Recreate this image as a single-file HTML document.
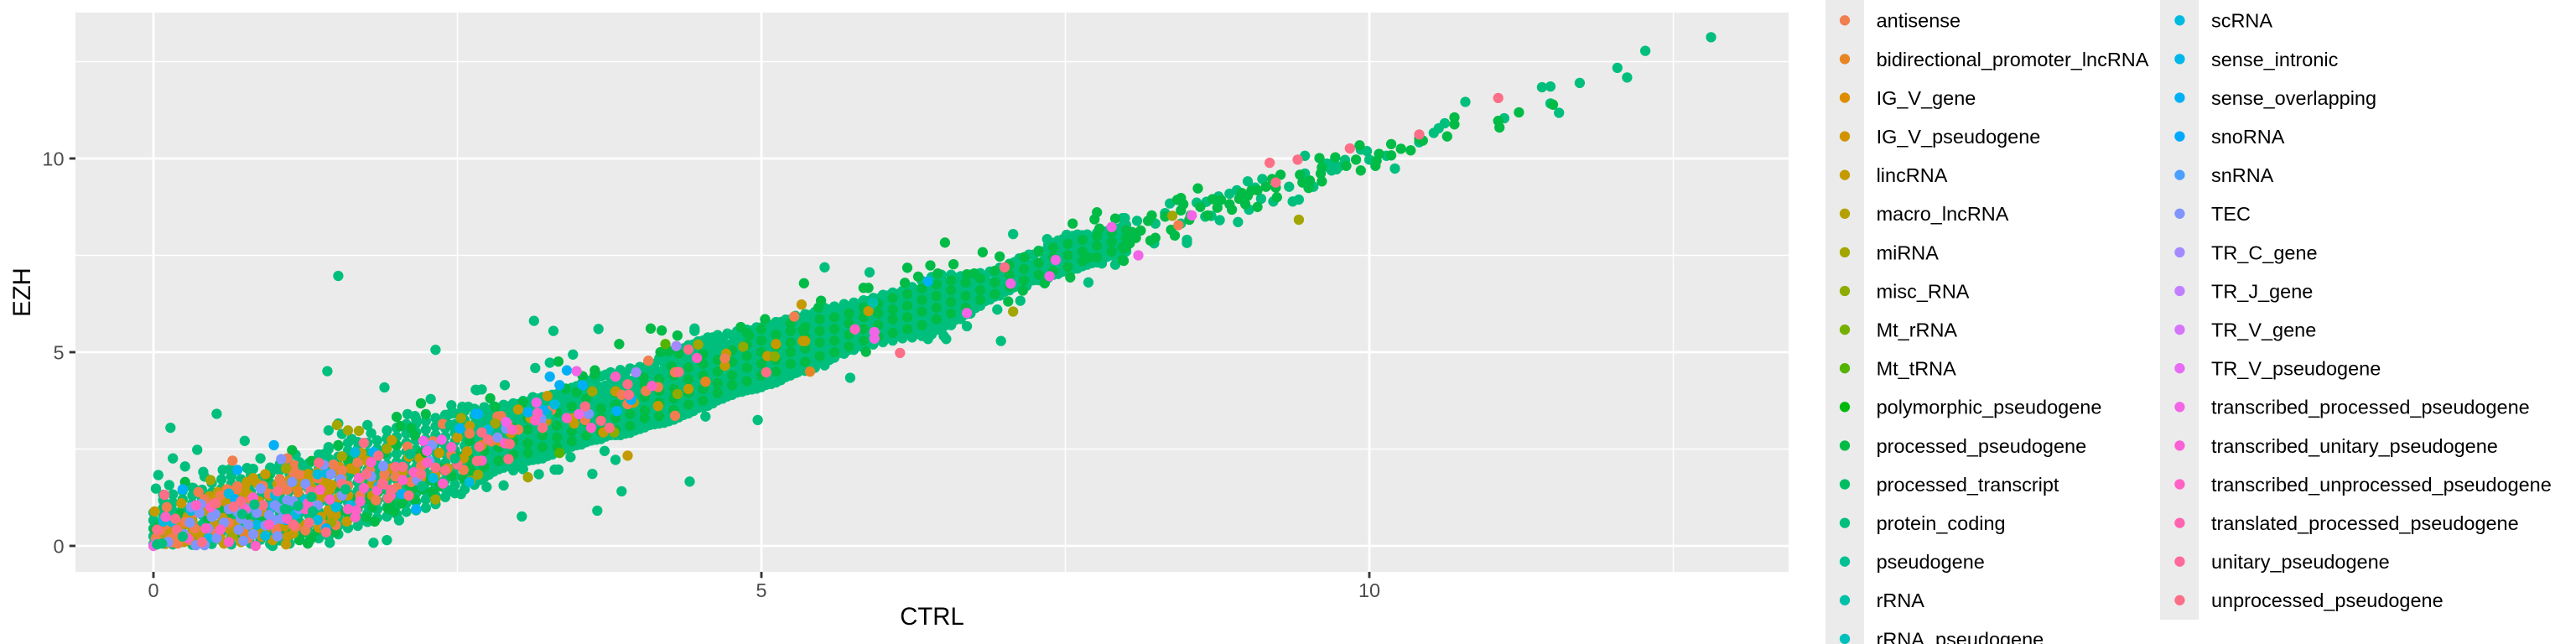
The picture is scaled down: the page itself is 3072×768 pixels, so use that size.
<!DOCTYPE html>
<html lang="en">
<head>
<meta charset="utf-8">
<title>CTRL vs EZH expression scatter</title>
<style>
html,body{margin:0;padding:0;background:#fff;width:3072px;height:768px;overflow:hidden}
svg{display:block}
text{font-family:"Liberation Sans",Arial,sans-serif}
.leg{font-size:23.47px;fill:#000}
.tick{font-size:23.47px;fill:#4D4D4D}
.title{font-size:29.33px;fill:#000}
</style>
</head>
<body>
<svg id="chart" width="3072" height="768" viewBox="0 0 3072 768" xmlns="http://www.w3.org/2000/svg">
<defs><clipPath id="panel-clip"><rect x="90" y="15" width="2043" height="667"/></clipPath></defs>
<rect x="90" y="15" width="2043" height="667" fill="#EBEBEB"/>
<g id="grid"></g>
<g id="points" clip-path="url(#panel-clip)"></g>
<g id="axes"></g>
<text class="title" x="1111.5" y="745" text-anchor="middle">CTRL</text>
<text class="title" transform="translate(36 348.5) rotate(-90)" text-anchor="middle">EZH</text>
<g id="legend">
<g><rect x="2177" y="0" width="46" height="768" fill="#EBEBEB"/></g>
<g><rect x="2576" y="0" width="46" height="739" fill="#EBEBEB"/></g>
<g><circle class="ld" data-level="1" cx="2200" cy="24.3" r="6.15"/><text class="leg" x="2237.6" y="32.7">antisense</text></g>
<g><circle class="ld" data-level="2" cx="2200" cy="70.4" r="6.15"/><text class="leg" x="2237.6" y="78.8">bidirectional_promoter_lncRNA</text></g>
<g><circle class="ld" data-level="3" cx="2200" cy="116.5" r="6.15"/><text class="leg" x="2237.6" y="124.9">IG_V_gene</text></g>
<g><circle class="ld" data-level="4" cx="2200" cy="162.6" r="6.15"/><text class="leg" x="2237.6" y="171">IG_V_pseudogene</text></g>
<g><circle class="ld" data-level="5" cx="2200" cy="208.7" r="6.15"/><text class="leg" x="2237.6" y="217.1">lincRNA</text></g>
<g><circle class="ld" data-level="6" cx="2200" cy="254.8" r="6.15"/><text class="leg" x="2237.6" y="263.2">macro_lncRNA</text></g>
<g><circle class="ld" data-level="7" cx="2200" cy="300.9" r="6.15"/><text class="leg" x="2237.6" y="309.3">miRNA</text></g>
<g><circle class="ld" data-level="8" cx="2200" cy="347" r="6.15"/><text class="leg" x="2237.6" y="355.4">misc_RNA</text></g>
<g><circle class="ld" data-level="9" cx="2200" cy="393.1" r="6.15"/><text class="leg" x="2237.6" y="401.5">Mt_rRNA</text></g>
<g><circle class="ld" data-level="10" cx="2200" cy="439.2" r="6.15"/><text class="leg" x="2237.6" y="447.6">Mt_tRNA</text></g>
<g><circle class="ld" data-level="11" cx="2200" cy="485.3" r="6.15"/><text class="leg" x="2237.6" y="493.7">polymorphic_pseudogene</text></g>
<g><circle class="ld" data-level="12" cx="2200" cy="531.4" r="6.15"/><text class="leg" x="2237.6" y="539.8">processed_pseudogene</text></g>
<g><circle class="ld" data-level="13" cx="2200" cy="577.5" r="6.15"/><text class="leg" x="2237.6" y="585.9">processed_transcript</text></g>
<g><circle class="ld" data-level="14" cx="2200" cy="623.6" r="6.15"/><text class="leg" x="2237.6" y="632">protein_coding</text></g>
<g><circle class="ld" data-level="15" cx="2200" cy="669.7" r="6.15"/><text class="leg" x="2237.6" y="678.1">pseudogene</text></g>
<g><circle class="ld" data-level="16" cx="2200" cy="715.8" r="6.15"/><text class="leg" x="2237.6" y="724.2">rRNA</text></g>
<g><circle class="ld" data-level="17" cx="2200" cy="761.9" r="6.15"/><text class="leg" x="2237.6" y="770.3">rRNA_pseudogene</text></g>
<g><circle class="ld" data-level="19" cx="2599.4" cy="24.3" r="6.15"/><text class="leg" x="2637" y="32.7">scRNA</text></g>
<g><circle class="ld" data-level="20" cx="2599.4" cy="70.4" r="6.15"/><text class="leg" x="2637" y="78.8">sense_intronic</text></g>
<g><circle class="ld" data-level="21" cx="2599.4" cy="116.5" r="6.15"/><text class="leg" x="2637" y="124.9">sense_overlapping</text></g>
<g><circle class="ld" data-level="22" cx="2599.4" cy="162.6" r="6.15"/><text class="leg" x="2637" y="171">snoRNA</text></g>
<g><circle class="ld" data-level="23" cx="2599.4" cy="208.7" r="6.15"/><text class="leg" x="2637" y="217.1">snRNA</text></g>
<g><circle class="ld" data-level="24" cx="2599.4" cy="254.8" r="6.15"/><text class="leg" x="2637" y="263.2">TEC</text></g>
<g><circle class="ld" data-level="25" cx="2599.4" cy="300.9" r="6.15"/><text class="leg" x="2637" y="309.3">TR_C_gene</text></g>
<g><circle class="ld" data-level="26" cx="2599.4" cy="347" r="6.15"/><text class="leg" x="2637" y="355.4">TR_J_gene</text></g>
<g><circle class="ld" data-level="27" cx="2599.4" cy="393.1" r="6.15"/><text class="leg" x="2637" y="401.5">TR_V_gene</text></g>
<g><circle class="ld" data-level="28" cx="2599.4" cy="439.2" r="6.15"/><text class="leg" x="2637" y="447.6">TR_V_pseudogene</text></g>
<g><circle class="ld" data-level="29" cx="2599.4" cy="485.3" r="6.15"/><text class="leg" x="2637" y="493.7">transcribed_processed_pseudogene</text></g>
<g><circle class="ld" data-level="30" cx="2599.4" cy="531.4" r="6.15"/><text class="leg" x="2637" y="539.8">transcribed_unitary_pseudogene</text></g>
<g><circle class="ld" data-level="31" cx="2599.4" cy="577.5" r="6.15"/><text class="leg" x="2637" y="585.9">transcribed_unprocessed_pseudogene</text></g>
<g><circle class="ld" data-level="32" cx="2599.4" cy="623.6" r="6.15"/><text class="leg" x="2637" y="632">translated_processed_pseudogene</text></g>
<g><circle class="ld" data-level="33" cx="2599.4" cy="669.7" r="6.15"/><text class="leg" x="2637" y="678.1">unitary_pseudogene</text></g>
<g><circle class="ld" data-level="34" cx="2599.4" cy="715.8" r="6.15"/><text class="leg" x="2637" y="724.2">unprocessed_pseudogene</text></g>
</g>
</svg>
<script>
const xMajorBreaks = [0, 5, 10];
const xMinorBreaks = [2.5, 7.5, 12.5];
const yMajorBreaks = [0, 5, 10];
const yMinorBreaks = [2.5, 7.5, 12.5];
const xTickLabels = ["0", "5", "10"];
const yTickLabels = ["0", "5", "10"];

/* Dense band estimates: each row is [CTRL, EZH, EZH, ...] */
const proteinCodingBand = [
[0,.05,.25,.45,.66,.86],[.08,.1,.32,.55,.76,.98,1.18,1.32],[.16,.04,.26,.47,.7,.9,1.12,1.33],[.24,.1,.33,.52,.78,.98,1.2,1.42],[.32,.03,.24,.46,.66,.9,1.1,1.3,1.5],[.4,.12,.35,.55,.8,1.0,1.22,1.45],[.48,.05,.27,.5,.72,.93,1.15,1.38,1.62],[.56,.14,.36,.6,.8,1.03,1.26,1.48,1.72],[.64,.04,.25,.47,.7,.92,1.14,1.36,1.6,1.8],[.72,.15,.38,.6,.82,1.05,1.28,1.5,1.72],[.8,.06,.27,.5,.72,.95,1.16,1.4,1.62,1.85],[.88,.16,.38,.6,.84,1.06,1.28,1.5,1.74],[.96,.05,.27,.5,.72,.94,1.17,1.4,1.62,1.85,2.02],[1.04,.14,.37,.6,.83,1.05,1.28,1.5,1.72,1.95,2.12],[1.12,.06,.28,.5,.74,.96,1.18,1.42,1.64,1.86,2.12],[1.2,.16,.38,.62,.84,1.06,1.3,1.52,1.74,1.98,2.16],[1.28,.12,.34,.56,.78,1.0,1.24,1.46,1.68,1.9,2.14],[1.36,.2,.44,.66,.88,1.1,1.34,1.56,1.78,2.0,2.22,2.36],[1.44,.25,.47,.7,.92,1.14,1.36,1.6,1.82,2.04,2.26,2.5],
[1.52,.3,.52,.74,.96,1.18,1.42,1.64,1.86,2.08,2.3,2.58],[1.6,.46,.68,.9,1.12,1.36,1.58,1.8,2.02,2.24,2.46,2.66],[1.68,.52,.74,.96,1.2,1.42,1.64,1.86,2.08,2.3,2.5,2.68],[1.76,.62,.84,1.06,1.28,1.5,1.72,1.96,2.18,2.4,2.66],[1.84,.72,.94,1.16,1.38,1.6,1.84,2.06,2.28,2.5,2.72],[1.92,.76,1.0,1.22,1.44,1.66,1.88,2.1,2.34,2.56,2.78,2.98],[2.0,.82,1.04,1.26,1.48,1.72,1.94,2.16,2.38,2.6,2.82,3.05],[2.08,.88,1.1,1.32,1.54,1.76,2.0,2.22,2.44,2.66,2.9,3.14],[2.16,.92,1.14,1.36,1.6,1.82,2.04,2.26,2.48,2.72,2.94,3.16,3.28],[2.24,.98,1.2,1.42,1.64,1.88,2.1,2.32,2.54,2.76,3.0,3.22],[2.32,1.08,1.3,1.52,1.74,1.96,2.2,2.42,2.64,2.86,3.08,3.3],[2.4,1.26,1.48,1.7,1.92,2.14,2.38,2.6,2.82,3.04,3.26,3.38],[2.48,1.36,1.58,1.8,2.02,2.24,2.46,2.7,2.92,3.14,3.42],[2.56,1.46,1.68,1.9,2.12,2.36,2.58,2.8,3.02,3.24,3.48],[2.64,1.58,1.8,2.02,2.24,2.46,2.68,2.92,3.14,3.36,3.54],[2.72,1.76,1.98,2.2,2.42,2.66,2.88,3.1,3.32,3.58],[2.8,1.92,2.14,2.36,2.58,2.8,3.02,3.24,3.46,3.6],[2.88,2.02,2.24,2.46,2.68,2.9,3.12,3.34,3.56,3.64],[2.96,2.1,2.32,2.56,2.78,3.0,3.22,3.44,3.68],[3.04,2.16,2.4,2.62,2.84,3.06,3.28,3.5,3.74],[3.12,2.22,2.44,2.66,2.9,3.12,3.34,3.56,3.84],[3.2,2.26,2.48,2.72,2.94,3.16,3.38,3.6,3.84],[3.28,2.36,2.58,2.8,3.02,3.24,3.46,3.68,3.9],[3.36,2.46,2.68,2.9,3.12,3.36,3.58,3.8,3.98],[3.44,2.56,2.78,3.0,3.22,3.44,3.66,3.88,4.08],[3.52,2.62,2.84,3.06,3.28,3.5,3.74,3.96,4.18],[3.6,2.72,2.94,3.16,3.38,3.6,3.82,4.04,4.28],[3.68,2.76,3.0,3.22,3.44,3.66,3.88,4.1,4.38],[3.76,2.86,3.08,3.3,3.52,3.74,3.96,4.2,4.48],[3.84,2.86,3.1,3.32,3.54,3.76,3.98,4.2,4.42,4.54],[3.92,2.92,3.14,3.36,3.58,3.8,4.04,4.26,4.58],[4.0,3.02,3.24,3.46,3.68,3.92,4.14,4.36,4.62],[4.08,3.12,3.34,3.56,3.78,4.0,4.24,4.46,4.7],[4.16,3.16,3.38,3.62,3.84,4.06,4.28,4.5,4.84],[4.24,3.22,3.44,3.66,3.9,4.12,4.34,4.56,4.78,4.98],[4.32,3.32,3.54,3.76,3.98,4.2,4.44,4.66,4.88,5.08],[4.4,3.42,3.64,3.86,4.08,4.3,4.52,4.76,4.98,5.18],[4.48,3.56,3.78,4.0,4.22,4.44,4.66,4.9,5.12,5.28],[4.56,3.62,3.84,4.06,4.28,4.5,4.74,4.96,5.18,5.38],[4.64,3.76,3.98,4.2,4.42,4.66,4.88,5.1,5.32,5.44],[4.72,3.86,4.08,4.3,4.54,4.76,4.98,5.2,5.48],[4.8,3.96,4.18,4.4,4.62,4.86,5.08,5.3,5.54],[4.88,4.02,4.24,4.46,4.7,4.92,5.14,5.36,5.58],[4.96,4.06,4.3,4.52,4.74,4.96,5.18,5.4,5.64],[5.04,4.16,4.38,4.6,4.82,5.04,5.28,5.5,5.74],[5.12,4.22,4.44,4.66,4.88,5.12,5.34,5.56,5.78],[5.2,4.36,4.58,4.8,5.02,5.24,5.46,5.68,5.84],[5.28,4.46,4.68,4.9,5.12,5.34,5.56,5.78,5.94],[5.36,4.52,4.74,4.96,5.18,5.4,5.62,5.84,5.98],[5.44,4.6,4.82,5.04,5.26,5.48,5.7,5.92,6.04],[5.52,4.66,4.88,5.1,5.32,5.56,5.78,6.0,6.14],[5.6,4.86,5.08,5.3,5.52,5.74,5.96,6.18],[5.68,4.96,5.18,5.4,5.62,5.84,6.06,6.24],[5.76,5.06,5.28,5.5,5.72,5.94,6.16,6.28],[5.84,5.12,5.34,5.56,5.78,6.0,6.22,6.34],[5.92,5.2,5.42,5.64,5.86,6.08,6.3,6.4],[6.0,5.26,5.48,5.7,5.92,6.14,6.36,6.48],[6.08,5.3,5.52,5.74,5.96,6.2,6.42,6.54],[6.16,5.36,5.58,5.8,6.02,6.24,6.46,6.58],[6.24,5.38,5.6,5.84,6.06,6.28,6.5,6.68],[6.32,5.42,5.64,5.86,6.08,6.32,6.54,6.84],[6.4,5.46,5.68,5.9,6.14,6.36,6.58,6.8,6.94],[6.48,5.56,5.78,6.0,6.22,6.44,6.66,6.88,7.0],[6.56,5.7,5.92,6.14,6.36,6.6,6.82,7.0],[6.64,5.86,6.08,6.3,6.52,6.74,6.96],[6.72,6.0,6.24,6.46,6.68,6.9,7.0],[6.8,6.2,6.42,6.64,6.86,7.04],[6.88,6.36,6.58,6.8,7.08],[6.96,6.46,6.68,6.9,7.18],[7.04,6.6,6.82,7.04,7.28],[7.12,6.72,6.94,7.16,7.42],[7.2,6.82,7.04,7.26,7.52],[7.28,6.86,7.08,7.3,7.62],[7.36,6.92,7.14,7.36,7.58,7.78],[7.44,7.02,7.24,7.46,7.68,7.88],[7.52,7.1,7.32,7.54,7.76,7.98],[7.6,7.16,7.38,7.6,7.82,8.04],[7.68,7.26,7.48,7.7,7.92,8.04],[7.76,7.32,7.54,7.76,7.98,8.08],[7.84,7.46,7.68,7.9,8.12],[7.92,7.52,7.74,7.96,8.18],[8.0,7.6,7.84,8.06,8.28]
];
const proteinCodingBandInner = [
[2.68,1.7,1.92,2.14,2.36,2.58,2.8,3.02,3.24,3.46],[2.76,1.84,2.06,2.28,2.5,2.74,2.96,3.18,3.4],[2.84,1.98,2.2,2.42,2.64,2.86,3.08,3.3,3.52],[2.92,2.06,2.28,2.5,2.72,2.94,3.16,3.38,3.6],[3.0,2.14,2.36,2.58,2.8,3.02,3.24,3.46,3.66],[3.08,2.2,2.42,2.64,2.86,3.08,3.3,3.52,3.72],[3.16,2.24,2.46,2.7,2.92,3.14,3.36,3.58,3.8],[3.24,2.32,2.54,2.76,2.98,3.2,3.42,3.64,3.84],[3.32,2.42,2.64,2.86,3.08,3.3,3.52,3.74,3.92],[3.4,2.52,2.74,2.96,3.18,3.4,3.62,3.84,4.02],[3.48,2.6,2.82,3.04,3.26,3.48,3.7,3.92,4.12],[3.56,2.68,2.9,3.12,3.34,3.56,3.78,4.0,4.22],[3.64,2.74,2.96,3.18,3.4,3.62,3.84,4.06,4.32],[3.72,2.82,3.04,3.26,3.48,3.7,3.92,4.14,4.42],[3.8,2.86,3.08,3.3,3.52,3.74,3.96,4.18,4.4],[3.88,2.9,3.12,3.34,3.56,3.78,4.0,4.22,4.46],[3.96,2.98,3.2,3.42,3.64,3.86,4.08,4.3,4.54],[4.04,3.06,3.28,3.5,3.72,3.94,4.16,4.38,4.6],[4.12,3.14,3.36,3.58,3.8,4.02,4.24,4.46,4.7],[4.2,3.18,3.4,3.62,3.84,4.06,4.28,4.5,4.72,4.86],[4.28,3.26,3.48,3.7,3.92,4.14,4.36,4.58,4.8,4.98],[4.36,3.38,3.6,3.82,4.04,4.26,4.48,4.7,4.92,5.1],[4.44,3.48,3.7,3.92,4.14,4.36,4.58,4.8,5.02,5.2],[4.52,3.58,3.8,4.02,4.24,4.46,4.68,4.9,5.12,5.3],[4.6,3.68,3.9,4.12,4.34,4.56,4.78,5.0,5.22,5.38],[4.68,3.8,4.02,4.24,4.46,4.68,4.9,5.12,5.34],[4.76,3.9,4.12,4.34,4.56,4.78,5.0,5.22,5.44],[4.84,3.98,4.2,4.42,4.64,4.86,5.08,5.3,5.5],[4.92,4.04,4.26,4.48,4.7,4.92,5.14,5.36,5.56],[5.0,4.1,4.32,4.54,4.76,4.98,5.2,5.42,5.64],[5.08,4.18,4.4,4.62,4.84,5.06,5.28,5.5,5.7],[5.16,4.28,4.5,4.72,4.94,5.16,5.38,5.6,5.78],[5.24,4.4,4.62,4.84,5.06,5.28,5.5,5.72,5.84],
[5.32,4.6,4.8,5.0,5.22,5.44,5.66,5.88],[5.4,4.66,4.88,5.1,5.32,5.54,5.76,5.96],[5.48,4.74,4.96,5.18,5.4,5.62,5.84,6.04],[5.56,4.8,5.0,5.2,5.42,5.64,5.86,6.1],[5.64,4.98,5.2,5.42,5.64,5.86,6.1],[5.72,5.06,5.28,5.5,5.72,5.94,6.18],[5.8,5.16,5.38,5.6,5.82,6.04,6.24],[5.88,5.24,5.46,5.68,5.9,6.12,6.32],[5.96,5.32,5.54,5.76,5.98,6.2,6.38],[6.04,5.38,5.6,5.82,6.04,6.26,6.46],[6.12,5.42,5.64,5.86,6.08,6.3,6.5],[6.2,5.46,5.68,5.9,6.12,6.34,6.56],[6.28,5.48,5.72,5.94,6.16,6.38,6.6],[6.36,5.52,5.76,5.98,6.22,6.44,6.68],[6.44,5.58,5.8,6.04,6.26,6.5,6.74,6.92],[6.52,5.7,5.92,6.14,6.36,6.58,6.8],[6.6,5.84,6.04,6.26,6.48,6.7,6.92],[6.68,5.98,6.2,6.4,6.62,6.84],[6.76,6.14,6.34,6.56,6.78,6.98],[6.84,6.32,6.52,6.72,6.94],[6.92,6.44,6.62,6.84,7.04],[7.0,6.56,6.78,7.0,7.18],[7.08,6.68,6.9,7.1,7.32],[7.16,6.78,7.0,7.22,7.44],[7.24,6.86,7.06,7.28,7.52],[7.32,6.92,7.14,7.36,7.6],[7.4,7.0,7.22,7.44,7.66,7.82],[7.48,7.08,7.3,7.52,7.74,7.92],[7.56,7.14,7.36,7.58,7.8,8.0],[7.64,7.22,7.44,7.66,7.88,8.02],[7.72,7.3,7.52,7.74,7.96],[7.8,7.4,7.62,7.84,8.06],[7.88,7.5,7.72,7.94,8.14],[7.96,7.58,7.8,8.02,8.22]
];
const processedPseudogeneBand = [
[2.6,2.0,2.25,2.7],[2.72,2.05,2.45,2.9],[2.84,2.2,2.55,2.8],[2.96,2.35,2.7,3.05],[3.08,2.4,2.65,3.0,3.3],[3.2,2.55,2.85,3.2],[3.32,2.55,2.8,3.1,3.45],[3.44,2.7,2.95,3.3,3.6],[3.56,2.85,3.2,3.5,3.8],[3.68,2.95,3.3,3.55],[3.8,3.0,3.3,3.65,3.95],[3.92,3.1,3.4,3.7],[4.04,3.3,3.5,3.85,4.15],[4.16,3.35,3.7,4.0,4.3],[4.28,3.5,3.8,4.05,4.4],[4.4,3.65,3.95,4.3,4.6],[4.52,3.75,4.05,4.4,4.7,4.95],[4.64,3.95,4.2,4.5,4.8],[4.76,4.15,4.4,4.75,5.05],[4.88,4.25,4.6,4.9,5.2,5.5],[5.0,4.4,4.7,5.0,5.3,5.6],[5.12,4.5,4.8,5.15,5.45],[5.24,4.7,5.0,5.25,5.55,5.75],[5.36,4.75,5.1,5.4,5.65],[5.48,4.9,5.25,5.55,5.85],[5.6,5.0,5.3,5.6,5.9],[5.72,5.15,5.45,5.75,6.0],[5.84,5.3,5.6,5.9,6.15],[5.96,5.4,5.7,6.0,6.25],[6.08,5.5,5.85,6.1,6.4],[6.2,5.6,5.9,6.2,6.5],[6.32,5.7,6.05,6.35,6.65],[6.44,5.85,6.15,6.45,6.75],[6.56,6.0,6.3,6.6,6.85],[6.68,6.15,6.45,6.8],[6.8,6.35,6.6,6.9],[6.92,6.5,6.8,7.1],[7.04,6.7,7.0,7.25],[7.16,6.85,7.15,7.45],[7.28,7.0,7.3,7.6],[7.4,7.1,7.45,7.7],[7.52,7.2,7.5,7.8],[7.64,7.35,7.6,7.9],[7.76,7.45,7.75,8.0],[7.88,7.6,7.85,8.1],[8.0,7.7,7.95,8.15]
];

/* [CTRL, EZH] values, one array per gene biotype */
const proteinCoding = [
[12.81,13.13],[12.27,12.78],[12.04,12.34],[12.12,12.09],[11.73,11.95],[11.42,11.84],[11.49,11.86],[11.49,11.42],[11.56,11.18],[10.79,11.46],[11.11,11.04],
[10.62,10.91],[10.57,10.78],[10.53,10.66],[10.41,10.42],[9.47,10.07],[9.98,10.19],[9.93,10.23],[10.0,9.97],[10.14,10.07],[10.21,9.74],[9.8,9.96],[9.75,9.79],[9.69,9.87],[9.69,9.69],[9.65,9.87],[9.73,9.72],[9.67,9.76],
[9.47,9.61],[9.54,9.27],[9.42,8.94],[9.37,8.89],[9.0,9.41],[9.12,9.47],[9.34,9.27],[9.21,8.89],[9.11,8.96],[9.06,9.25],[9.01,8.68],[8.91,9.18],[8.85,9.09],[8.76,9.02],[8.77,8.41],[8.92,8.36],[8.66,8.88],[8.58,8.86],[8.65,8.5],[8.7,8.52],
[8.36,8.84],[8.32,8.59],[8.45,8.32],[8.5,7.9],[8.5,7.82],[8.09,8.39],[8.24,8.32],[7.99,8.46],[7.98,8.1],[8.23,7.81],
[7.07,8.05],[5.52,7.19],[5.89,7.06],[5.73,4.34],[6.97,5.29],[6.37,5.34],[6.52,5.34],[6.5,5.42],[6.69,5.67],[7.69,6.8],[7.13,6.33],[7.18,6.71],[6.94,6.1],[7.8,7.29],[7.91,7.26],[7.97,8.46],[6.59,5.83],[6.71,6.0],
[3.13,5.81],[3.29,5.55],[3.66,5.6],[4.45,5.61],[4.45,5.55],[3.45,4.94],[3.26,4.73],[3.14,4.59],[2.89,4.15],[2.66,4.02],[2.7,4.04],[3.71,2.45],[3.8,2.22],[3.61,1.86],[3.85,1.41],[4.41,1.66],[4.97,3.25],[3.65,0.91],[3.03,0.76],[2.88,1.56],[3.17,1.85],[3.3,1.97],[3.33,1.97],[3.43,2.29],[3.04,1.98],[2.96,1.95],[4.54,3.34],[4.42,3.52],[2.74,1.52],[5.04,4.24],[5.3,4.49],
[1.52,6.97],[2.32,5.06],[1.43,4.51],[1.9,4.09],[2.65,4.03],[0.52,3.41],[0.14,3.05],[0.75,2.71],[0.36,2.48],[0.16,2.26],[0.26,2.05],[0.88,2.26],[0.04,1.83],[0.02,1.48],[0.13,1.57],[0.41,1.91],[0.42,1.79],[0.57,1.96],[0.63,1.98],[0.77,2.01],[0.82,1.99],[1.0,1.98],[1.17,2.35],[1.44,2.98],[1.55,2.89],[1.52,3.16],[1.76,3.12],[1.79,2.91],[1.63,2.76],[1.44,2.55],[1.4,2.37],[2.09,3.4],[2.15,3.35],[2.28,3.79],[2.45,3.63],[2.54,3.59],[2.59,3.59],[2.44,3.41],[1.45,0.08],[1.81,0.08],[1.92,0.15],[2.02,0.66],[2.45,1.43],[2.53,1.34],[1.73,0.67],[0.98,0.0],[0.33,1.49],
[7.51,8.03],[7.68,8.03],[7.66,7.31],[8.04,8.03],[8.0,7.81],[7.35,7.92]
];

const processedPseudogene = [
[11.51,11.39],[11.23,11.19],[11.06,10.97],[11.07,10.8],[10.64,10.57],[10.41,10.52],[10.44,10.46],[10.7,11.06],[10.7,10.88],[10.34,10.21],[10.26,10.25],[10.18,10.37],[10.18,10.08],[10.08,10.12],[10.06,9.94],[10.05,9.81],[9.93,9.69],[9.89,9.97],[9.92,10.34],[9.81,9.81],[9.72,10.03],
[9.59,10.01],[9.61,9.77],[9.6,9.61],[9.61,9.41],[9.51,9.43],[9.45,9.38],[9.43,9.58],[9.5,9.24],[9.27,9.58],[9.2,9.47],[9.23,9.25],[9.24,9.0],[9.15,9.27],[9.08,9.18],[9.03,9.17],[9.08,8.75],[8.98,8.82],[9.0,9.04],[8.95,9.11],[8.93,8.96],[8.87,8.68],[8.85,8.82],[8.78,8.93],[8.75,8.73],[8.71,8.95],[8.67,8.53],[8.61,8.75],[8.59,9.23],[8.53,8.53],[8.52,8.42],
[8.45,8.98],[8.42,8.93],[8.47,8.82],[8.45,8.66],[8.32,8.5],[8.37,8.16],[8.4,8.01],[8.21,8.53],[8.18,8.39],[8.12,8.14],[8.05,8.1],[8.08,7.95],[8.03,7.81],[8.24,7.95],[8.2,7.88],[7.98,7.67],[7.98,7.36],
[6.51,7.83],[6.82,7.58],[6.2,7.18],[5.35,6.78],[6.39,7.24],[6.58,7.27],[5.86,5.01],[5.84,6.66],[5.88,6.66],[6.96,7.47],[7.56,8.32],[7.76,8.61],[7.74,8.43],[7.78,8.19],[7.91,8.45],[7.97,7.71],[7.97,7.38],[7.69,7.44],[7.54,6.93],[7.33,6.78],[7.15,6.59],[7.03,6.31],[5.49,6.33],[5.47,6.15],[6.29,6.95],[6.18,6.79],[6.45,7.03],[6.69,7.01],[6.75,7.03],
[4.09,5.61],[4.18,5.56],[4.31,5.43],[3.83,5.21],[3.33,4.76],[3.63,4.53],[2.77,3.81],[2.81,3.59],[3.04,3.71],[3.39,4.06],[3.48,3.97],[3.53,4.38],[3.63,4.42],[4.03,4.35],[4.26,4.64],[4.17,5.0],[4.24,5.03],[4.32,4.96],[4.83,5.65],[4.9,5.43],[5.03,5.85],[5.34,5.57],
[0.26,1.65],[1.14,2.47],[2.2,3.68],[2.24,3.4],[2.0,3.33],[2.12,3.04],[2.03,3.09],[1.82,0.63],[1.27,0.06],[0.22,0.83],[1.98,0.89],[2.04,1.1],[2.13,1.46],[2.21,1.46],[2.29,1.39],[1.93,0.96],[1.65,1.21],[1.53,1.54],[1.41,0.67],[1.24,0.35],[1.3,0.2],[0.88,0.67],[0.45,0.69],[0.61,0.74],[0.76,0.78],[0.84,1.1],[1.58,0.89],[1.75,1.21],[0.94,1.79],[1.3,2.19],[1.52,2.6],[0.01,0.42],[2.62,1.9],[2.35,1.54],
[.05,.55],[.2,.6],[.35,.25],[.55,.95],[.7,.25],[.9,1.0],[1.05,.9],[1.1,.3],[1.2,.15],[1.35,.4],[1.45,.55],[1.5,.35],[1.62,.75],[1.68,1.0],[1.75,.75],[1.8,1.0],[1.85,1.4],[1.95,1.1],[2.0,1.4],[2.05,1.15],[2.1,1.6],[2.15,1.2],[2.2,2.4],[2.28,1.7],[2.35,2.0],[2.45,1.8],[2.5,2.3],[2.55,1.75],[2.0,2.6],[2.15,2.85],[1.9,2.4],[1.6,2.2]
];

const lincRNA = [
[0.12,0.31],[0.29,0.56],[0.37,0.31],[0.39,0.17],[0.54,0.38],[0.58,0.06],[0.65,0.25],[0.67,0.56],[0.89,0.89],[0.89,0.35],[0.89,0.24],[1.1,0.24],[1.09,0.04],[1.36,0.47],[1.46,0.6],[1.59,0.63],[1.47,0.78],[1.44,0.92],[1.38,1.25],[1.27,1.86],[0.92,1.85],[0.82,1.75],[0.77,1.65],[0.78,1.32],[0.6,1.46],[0.53,1.39],[0.46,1.28],[0.23,1.1],[1.4,1.61],[1.47,1.57],[1.52,1.25],[1.66,1.97],[1.53,2.04],[1.71,2.4],[1.96,2.73],[1.8,1.61],[2.32,1.83],[2.58,2.44],[2.55,2.26],[2.19,2.26],[1.23,1.83],[1.15,1.68],[1.43,1.39],[1.34,1.28],[0.01,0.89],
[3.24,3.87],[3.0,3.52],[2.94,2.91],[3.46,3.16],[3.8,3.99],[3.7,2.93],[4.15,3.61],[5.12,5.21],[3.9,2.33],[3.23,3.22],[4.71,4.96],[5.34,5.29],[5.88,6.06],[5.33,6.23],[5.36,5.29],
[.05,.15],[.1,.05],[.15,.35],[.18,.2],[.22,.48],[.25,.1],[.3,.3],[.32,.62],[.28,.75],[.42,.42],[.44,.9],[.48,1.25],[.5,.55],[.55,.2],[.57,.72],[.6,1.12],[.63,.42],[.7,1.35],[.72,.1],[.75,1.5],[.8,.55],[.85,1.62],[.87,1.15],[.95,1.3],[.98,.15],[1.02,1.6],[1.05,1.45],[1.08,.5],[1.12,1.7],[1.15,.32],[1.18,1.5],[1.22,1.62],[1.25,.55],[1.3,1.75],[1.3,1.5],[1.35,1.9],[1.38,.75],[1.42,1.7],[1.45,1.45],[1.5,1.9],[1.5,.8],[1.55,1.75],[1.6,1.3],[1.62,2.0],[1.7,1.75],[1.75,2.2],[1.8,1.3],[1.82,2.35],[1.9,1.75],[1.95,2.0],[2.05,1.9],[2.1,2.3],[2.2,1.75],[2.35,2.4],[2.42,2.0],[2.5,2.8],[2.6,3.1],[2.7,2.6],[2.85,2.7],[3.1,3.3],[3.45,3.3],[3.95,3.7],[4.4,4.05],[4.7,4.65],[5.05,4.9]
];

const antisense = [
[1.1,2.26],[1.16,2.08],[1.04,1.72],[0.69,1.54],[0.61,1.46],[0.52,1.1],[0.37,1.39],[0.11,1.0],[0.34,0.45],[0.16,0.09],[0.2,0.06],[0.74,0.35],[1.01,0.4],[1.17,0.49],[1.5,0.54],[1.19,1.39],[1.68,2.15],[1.99,1.79],[1.83,1.18],[2.55,1.96],[0.65,2.2],[2.38,3.15],[2.09,2.56],
[4.07,4.78],[4.29,3.36],[4.29,4.48],[5.27,5.92],[4.05,4.0],[2.86,3.35],[2.83,3.34],[2.91,3.16],[3.27,3.5],[4.7,4.84],[3.9,3.66],[8.43,8.28],
[.02,.2],[.06,.4],[.1,.55],[.14,.18],[.2,.3],[.26,.62],[.3,.15],[.35,.85],[.42,1.2],[.5,.3],[.55,1.3],[.62,.6],[.68,1.45],[.78,.2],[.8,1.2],[.9,1.55],[.95,1.35],[1.0,.5],[1.05,1.6],[1.1,1.45],[1.15,1.9],[1.2,1.85],[1.25,.4],[1.35,1.75],[1.4,.55],[1.48,2.1],[1.55,1.95],[1.6,1.55],[1.7,1.3],[1.78,1.95],[1.9,1.85],[2.0,1.5],[2.12,1.65],[2.2,2.05],[2.3,2.7],[2.45,2.35],[2.6,2.9],[2.78,2.7],[3.0,3.0],[3.55,3.25],[3.85,3.9],[4.15,4.1]
];
const bidirectionalLncRNA = [[4.54,4.24],[1.19,1.39],[0.75,0.3],[5.4,4.5]];
const miRNA = [
[1.51,3.12],[1.6,2.98],[1.69,2.97],[2.32,1.2],[2.53,3.3],[1.92,2.51],[1.55,2.31],[1.09,2.0],[0.47,1.7],[0.92,0.42],[0.65,0.25],[1.46,0.6],
[3.08,1.77],[3.61,3.99],[4.48,5.2],[2.67,1.84],[2.61,1.68],[2.81,3.16],[7.07,6.05],[8.38,8.52],[9.42,8.42]
];
const miscRNA = [[4.31,3.92],[4.85,5.14],[5.11,4.89],[3.79,2.93]];
const mtTRNA = [[4.21,5.21],[3.34,2.4]];
const polymorphicPseudogene = [[2.24,2.4]];
const rRNA = [[5.92,6.28],[3.24,3.4]];
const scRNA = [[0.31,0.91],[0.08,0.63],[0.98,1.03],[1.42,1.88],[1.66,2.42],[1.17,0.82],[0.92,0.26],[1.35,0.67],[.15,.62],[.45,.2],[.62,1.35],[.85,.55],[1.0,1.3],[1.25,1.2],[1.35,1.85],[1.5,1.0],[1.62,1.05],[1.85,1.55],[2.0,2.05],[2.3,1.75],[2.6,1.65],[2.75,3.0],[3.3,3.65]];
const senseOverlapping = [
[0.99,2.6],[2.16,0.95],[2.04,1.34],[0.24,1.46],[0.69,1.96],[2.52,3.03],[2.65,3.41],[1.81,2.42],[1.42,0.45],[1.09,0.67],[0.67,1.21],
[3.26,4.37],[3.4,4.53],[3.34,4.15],[3.53,4.15],[3.81,3.48],[3.93,3.77],[3.08,3.45],[2.67,3.41],[3.21,3.5],[6.37,6.83]
];
const tec = [
[1.14,1.65],[0.88,1.48],[0.39,1.08],[0.31,1.0],[0.51,0.82],[0.69,0.89],[1.1,1.18],[1.04,0.96],[0.99,0.67],[0.92,0.53],[0.74,0.13],[0.42,0.02],[0.35,0.02],[1.46,1.85],[1.89,2.06],[1.79,1.79],[2.27,2.19],[2.29,2.6],[2.17,1.7],[1.4,2.09],[1.05,2.24],[1.54,1.72],[0.77,0.96],
[3.58,3.41],[3.19,3.27],[3.2,3.07],[2.9,3.03],[2.83,2.8],
[.12,.1],[.25,.3],[.3,.6],[.38,.85],[.45,.45],[.48,.75],[.52,.2],[.58,.6],[.62,.95],[.7,.42],[.72,.7],[.78,.55],[.85,.85],[.82,.3],[.95,.8],[1.0,1.05],[1.02,.25],[1.05,.7],[1.15,1.15],[1.2,.95],[1.25,1.6],[1.35,1.05],[1.55,1.3]
];
const trCGene = [[4.3,5.16],[3.97,4.48]];
const transcribedProcessed = [[2.22,2.71],[2.37,2.74],[0.0,0.0],[0.02,0.05],[2.25,2.45],[2.9,3.2],[3.15,3.7],[3.5,3.4],[3.48,4.51],[7.88,8.23],[7.37,6.96],[7.42,7.38],[5.93,5.52],[5.93,5.35],[6.69,6.01],[7.05,6.77],[8.54,8.53],[8.1,7.5]];
const transcribedUnprocessed = [
[0.43,0.45],[0.47,1.0],[0.84,0.0],[1.37,1.45],[1.27,1.1],[1.79,2.16],[1.73,1.49],[1.69,1.75],[2.14,1.9],[2.38,1.61],[1.67,0.92],[1.66,0.74],[1.84,1.43],[1.89,1.59],
[3.8,4.37],[4.1,4.13],[4.47,4.85],[3.14,3.24],[3.16,3.43],[2.89,2.65],[5.77,5.59],
[.1,.75],[.28,.2],[.35,1.05],[.55,.42],[.62,.1],[.75,.95],[.82,1.25],[.95,.55],[1.1,.7],[1.25,.95],[1.45,1.2],[1.6,.95],[1.7,1.15],[1.95,1.3],[2.05,1.7],[2.25,2.15],[2.45,2.55],[2.7,2.2],[2.95,3.0],[3.4,3.3],[3.6,3.05]
];
const unprocessedPseudogene = [
[0.09,1.32],[1.02,1.41],[0.66,1.01],[1.36,2.15],[1.28,0.6],[1.93,1.23],[1.85,2.33],[1.73,2.66],[2.32,2.02],[2.66,2.19],[1.99,2.04],[2.05,2.04],[1.29,1.41],[1.88,1.61],[0.19,0.42],
[4.4,5.07],[3.9,4.17],[3.91,3.9],[5.04,4.48],[2.7,2.93],[2.68,2.56],[2.93,2.63],[2.92,2.24],[3.68,3.23],[4.32,4.49],
[7.0,7.19],[6.14,4.98],[11.06,11.56],[10.41,10.62],[9.84,10.26],[9.41,9.97],[9.18,9.89],[9.23,9.38],
[.03,.42],[.18,.7],[.4,.1],[.5,1.1],[.72,1.15],[.9,1.05],[1.15,.55],[1.42,.35],[1.55,1.6],[1.75,1.85],[1.95,1.45],[2.1,1.3],[2.2,1.85],[2.4,1.95],[2.5,2.1],[2.75,2.75],[3.2,3.05],[3.55,3.6],[3.75,3.05]
];
const proteinCodingTop = [[1.3,1.26],[1.31,0.89],[1.19,1.03],[1.08,0.95],[1.58,1.46],[0.83,1.07],[0.73,0.82],[0.24,0.24],[2.21,1.54],[2.48,2.26],[2.44,3.12],[2.11,2.37],[1.23,2.08],[0.03,0.04],[0.07,0.06]];

/* hue position of each biotype in the 35-level ggplot discrete palette */
const seriesNames = ["protein_coding","protein_coding","protein_coding","processed_pseudogene","processed_pseudogene","lincRNA","antisense","bidirectional_promoter_lncRNA","miRNA","misc_RNA","Mt_tRNA","polymorphic_pseudogene","rRNA","scRNA","sense_overlapping","TEC","TR_C_gene","transcribed_processed_pseudogene","transcribed_unprocessed_pseudogene","unprocessed_pseudogene","protein_coding"];
const seriesLevels = [14,14,14,12,12,5,1,2,7,8,10,11,16,19,21,24,25,29,31,34,14];

function expandBand(rows) {
  const out = [];
  rows.forEach(r => r.slice(1).forEach(y => out.push([r[0], y])));
  return out;
}
const seriesValues = [expandBand(proteinCodingBand),expandBand(proteinCodingBandInner),proteinCoding,expandBand(processedPseudogeneBand),processedPseudogene,lincRNA,antisense,bidirectionalLncRNA,miRNA,miscRNA,mtTRNA,polymorphicPseudogene,rRNA,scRNA,senseOverlapping,tec,trCGene,transcribedProcessed,transcribedUnprocessed,unprocessedPseudogene,proteinCodingTop];

const NS = "http://www.w3.org/2000/svg";
const xScale = v => 183 + 145 * v;
const yScale = v => 651 - 46.2 * v;

function hueColor(level) {
  const h = (15 + 360 * level / 35) * Math.PI / 180, L = 65, C = 100;
  const U = C * Math.cos(h), V = C * Math.sin(h);
  const Y = Math.pow((L + 16) / 116, 3);
  const un = 0.19784, vn = 0.46834;
  const u = U / (13 * L) + un, v = V / (13 * L) + vn;
  const X = 9 * Y * u / (4 * v);
  const Z = -X / 3 - 5 * Y + 3 * Y / v;
  const lin = [3.240479 * X - 1.53715 * Y - 0.498535 * Z, -0.969256 * X + 1.875992 * Y + 0.041556 * Z, 0.055648 * X - 0.204043 * Y + 1.057311 * Z];
  const ch = lin.map(c => {
    const g = c <= 0.0031308 ? 12.92 * c : 1.055 * Math.pow(c, 1 / 2.4) - 0.055;
    return Math.round(255 * Math.max(0, Math.min(1, g)));
  });
  return "rgb(" + ch.join(",") + ")";
}

function addLine(parent, x1, y1, x2, y2, stroke, width, name) {
  const l = document.createElementNS(NS, "line");
  l.setAttribute("x1", x1);
  l.setAttribute("y1", y1);
  l.setAttribute("x2", x2);
  l.setAttribute("y2", y2);
  l.setAttribute("stroke", stroke);
  l.setAttribute("stroke-width", width);
  
  
  parent.appendChild(l);
}

const grid = document.getElementById("grid");
yMinorBreaks.forEach(v => addLine(grid, 90, yScale(v), 2133, yScale(v), "#fff", 1.42, "y-minor-gridline"));
xMinorBreaks.forEach(v => addLine(grid, xScale(v), 15, xScale(v), 682, "#fff", 1.42, "x-minor-gridline"));
yMajorBreaks.forEach(v => addLine(grid, 90, yScale(v), 2133, yScale(v), "#fff", 2.85, "y-major-gridline"));
xMajorBreaks.forEach(v => addLine(grid, xScale(v), 15, xScale(v), 682, "#fff", 2.85, "x-major-gridline"));

const axes = document.getElementById("axes");
function addTickLabel(x, y, label, anchor, name) {
  const t = document.createElementNS(NS, "text");
  t.setAttribute("class", "tick");
  t.setAttribute("x", x);
  t.setAttribute("y", y);
  t.setAttribute("text-anchor", anchor);
  
  
  t.textContent = label;
  axes.appendChild(t);
}
xMajorBreaks.forEach((v, i) => {
  addLine(axes, xScale(v), 682, xScale(v), 689.3, "#333333", 2.85, "x-axis-tick");
  addTickLabel(xScale(v), 712, xTickLabels[i], "middle", "x-tick-label");
});
yMajorBreaks.forEach((v, i) => {
  addLine(axes, 82.7, yScale(v), 90, yScale(v), "#333333", 2.85, "y-axis-tick");
  addTickLabel(76.5, yScale(v) + 8.4, yTickLabels[i], "end", "y-tick-label");
});

const pts = document.getElementById("points");
seriesValues.forEach((values, s) => {
  const fill = hueColor(seriesLevels[s]);
  values.forEach(p => {
    const c = document.createElementNS(NS, "circle");
    c.setAttribute("cx", xScale(p[0]).toFixed(1));
    c.setAttribute("cy", yScale(p[1]).toFixed(1));
    c.setAttribute("r", "6.15");
    c.setAttribute("fill", fill);
    
    
    pts.appendChild(c);
  });
});

document.querySelectorAll(".ld").forEach(d => d.setAttribute("fill", hueColor(+d.getAttribute("data-level"))));
</script>
</body>
</html>
